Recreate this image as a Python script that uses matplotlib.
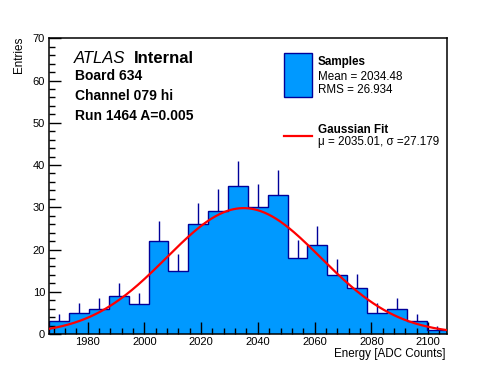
import numpy as np
import matplotlib
matplotlib.use("Agg")
import matplotlib.pyplot as plt
from matplotlib.patches import Rectangle
from matplotlib.lines import Line2D
from matplotlib.ticker import MultipleLocator

# ---- data ----
bin_low = 1966.5
bin_width = 7.0
counts = [3, 5, 6, 9, 7, 22, 15, 26, 29, 35, 30, 33, 18, 21, 14, 11, 5, 6, 3, 1]
fit_const = 29.8
fit_mean = 2035.01
fit_sigma = 27.179
stat_mean = 2034.48
stat_rms = 26.934
x_ticks = [1980, 2000, 2020, 2040, 2060, 2080, 2100]
y_ticks = [0, 10, 20, 30, 40, 50, 60, 70]
info_lines = ["Board 634", "Channel 079 hi", "Run 1464 A=0.005"]

plt.rcParams['font.family'] = ['Liberation Sans', 'DejaVu Sans']

W, H = 496, 372
fig = plt.figure(figsize=(W / 100, H / 100), dpi=100)

def fx(x):
    return x / W

def fy(y):
    return 1 - y / H

L, R, T, B = 49.3, 446.5, 38.3, 334.0
ax = fig.add_axes([fx(L), fy(B), (R - L) / W, (B - T) / H])

counts_a = np.array(counts, dtype=float)
edges = bin_low + bin_width * np.arange(len(counts) + 1)
centers = 0.5 * (edges[:-1] + edges[1:])

fill_col = '#0099ff'
edge_col = '#000099'
ax.stairs(counts_a, edges, fill=True, color=fill_col, linewidth=0, zorder=1)
ax.stairs(counts_a, edges, fill=False, color=edge_col, linewidth=1.0, baseline=0, zorder=2)
ax.vlines(centers, counts_a, counts_a + np.sqrt(counts_a), color=edge_col, linewidth=1.0, zorder=2)

xs = np.linspace(edges[0], edges[-1], 400)
ys = fit_const * np.exp(-0.5 * ((xs - fit_mean) / fit_sigma) ** 2)
ax.plot(xs, ys, color='#ff0000', linewidth=1.6, zorder=3)

ax.set_xlim(edges[0], edges[-1])
ax.set_ylim(0, 70)
ax.set_xticks(x_ticks)
ax.set_yticks(y_ticks)
ax.xaxis.set_minor_locator(MultipleLocator(4))
ax.yaxis.set_minor_locator(MultipleLocator(2))
ax.tick_params(which='both', direction='in', top=False, right=False, width=1.0, labelsize=8.0)
ax.tick_params(which='major', length=8.5)
ax.tick_params(which='minor', length=4.3)
ax.tick_params(axis='y', pad=3)
ax.tick_params(axis='x', pad=2.2)
for s in ax.spines.values():
    s.set_linewidth(1.1)

fig.text(fx(19), fy(37), "Entries", rotation=90, ha='center', va='top', fontsize=8.4)
fig.text(fx(446), fy(357.3), "Energy [ADC Counts]", ha='right', va='baseline', fontsize=8.4)

# ATLAS label
fig.text(fx(74), fy(63), "ATLAS", style='italic', fontsize=12, va='baseline', ha='left')
fig.text(fx(134), fy(63), "Internal", weight='bold', fontsize=12, va='baseline', ha='left')
for i, line in enumerate(info_lines):
    fig.text(fx(75), fy(79.5 + 20.3 * i), line, weight='bold', fontsize=10, va='baseline', ha='left')

# legend
rect = Rectangle((fx(283.5), fy(96.7)), fx(311.7) - fx(283.5), fy(53.3) - fy(96.7),
                 transform=fig.transFigure, facecolor=fill_col, edgecolor=edge_col, linewidth=1.0)
fig.patches.append(rect)
fig.text(fx(318), fy(65), "Samples", weight='bold', fontsize=8.4, va='baseline')
fig.text(fx(318), fy(80), f"Mean = {stat_mean:.2f}", fontsize=8.4, va='baseline')
fig.text(fx(318), fy(93.3), f"RMS = {stat_rms:.3f}", fontsize=8.4, va='baseline')
fig.lines.append(Line2D([fx(283.5), fx(311.7)], [fy(135.7), fy(135.7)],
                        transform=fig.transFigure, color='#ff0000', linewidth=1.6))
fig.text(fx(318), fy(132.7), "Gaussian Fit", weight='bold', fontsize=8.4, va='baseline')
fig.text(fx(318), fy(144.5), f"μ = {fit_mean:.2f}, σ ={fit_sigma:.3f}", fontsize=8.4, va='baseline')

fig.savefig("out.png", dpi=100)
